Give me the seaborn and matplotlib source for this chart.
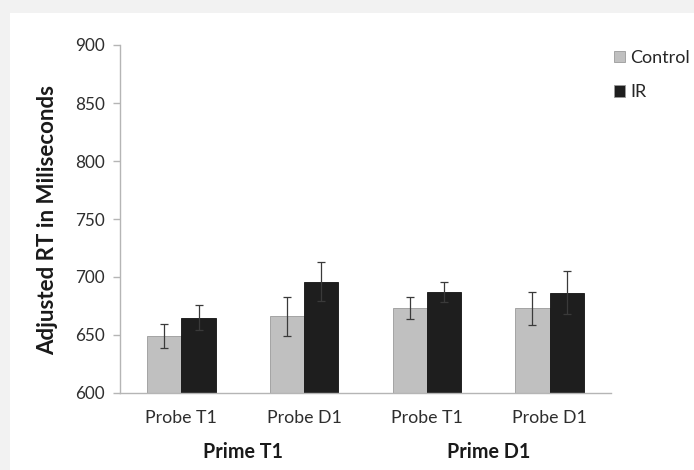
import pandas as pd
import matplotlib
matplotlib.use("Agg")
import matplotlib.pyplot as plt
import seaborn as sns

# values
probes = ["Probe T1", "Probe D1", "Probe T1 ", "Probe D1 "]
primes = ["Prime T1", "Prime D1"]
conditions = ["Control", "IR"]
control_rt = [649, 666, 673, 673]
ir_rt = [665, 696, 687, 686.5]
control_err = [10.5, 16.5, 9.5, 14.5]
ir_err = [11, 17, 8.6, 18.5]

df = pd.DataFrame({
    "probe": probes * 2,
    "condition": ["Control"] * 4 + ["IR"] * 4,
    "rt": control_rt + ir_rt,
})
errs = {"Control": control_err, "IR": ir_err}

sns.set_style("white")
plt.rcParams["font.family"] = ["Lato", "DejaVu Sans"]

fig = plt.figure(figsize=(6.94, 4.70), dpi=100, facecolor="#f2f2f2")
fig.patches.append(plt.Rectangle((10 / 694, 0), 1, 1 - 13 / 470, transform=fig.transFigure,
                                 facecolor="white", edgecolor="none", zorder=-1))
ax = fig.add_axes([120 / 694, 1 - 393 / 470, 491 / 694, 348 / 470])
ax.set_facecolor("white")

sns.barplot(data=df, x="probe", y="rt", hue="condition", hue_order=conditions,
            palette={"Control": "#c0c0c0", "IR": "#1e1e1e"}, errorbar=None,
            width=0.56, saturation=1, linewidth=0.6, edgecolor="#9a9a9a", ax=ax)
for cont in ax.containers:
    for p in cont:
        if p.get_facecolor()[0] < 0.5:
            p.set_edgecolor("#111111")

for cont, cond in zip(ax.containers, conditions):
    xs = [p.get_x() + p.get_width() / 2 for p in cont]
    ys = [p.get_height() for p in cont]
    ax.errorbar(xs, ys, yerr=errs[cond], fmt="none", ecolor="#3a3a3a",
                elinewidth=0.9, capsize=3, capthick=0.9, zorder=5)

ax.set_ylim(600, 900)
ax.set_yticks(range(600, 901, 50))
ax.set_xlim(-0.5, 3.5)
ax.set_xticks(range(4))
ax.set_xticklabels([p.strip() for p in probes])
ax.set_xticks([-0.5, 0.5, 1.5, 2.5, 3.5], minor=True)
ax.tick_params(axis="x", which="major", length=0, pad=12, labelsize=12.8, labelcolor="#2e2e2e")
ax.tick_params(axis="x", which="minor", length=5, color="#b5b5b5", width=1)
ax.tick_params(axis="y", length=5, color="#b5b5b5", width=1, labelsize=12.3, pad=6,
               labelcolor="#2e2e2e", left=True)
for s in ["top", "right"]:
    ax.spines[s].set_visible(False)
for s in ["left", "bottom"]:
    ax.spines[s].set_color("#b5b5b5")
    ax.spines[s].set_linewidth(1)

ax.set_xlabel("")
ax.set_ylabel("Adjusted RT in Miliseconds", fontsize=16, fontweight="bold",
              color="#1a1a1a", va="center")
ax.yaxis.set_label_coords(-72 / 491, 0.497)

for i, prime in enumerate(primes):
    ax.text(0.5 + 2 * i, -0.17, prime, transform=ax.get_xaxis_transform(),
            ha="center", va="center", fontsize=14.2, fontweight="bold", color="#1a1a1a")

handles, labels = ax.get_legend_handles_labels()
ax.legend(handles, labels, loc="upper left", bbox_to_anchor=(614 / 694, 1 - 50 / 470),
          bbox_transform=fig.transFigure, frameon=False, fontsize=13,
          handlelength=0.62, handleheight=0.62, handletextpad=0.28,
          labelspacing=1.0, borderaxespad=0, borderpad=0)

fig.savefig("out.png", dpi=100, facecolor=fig.get_facecolor())
